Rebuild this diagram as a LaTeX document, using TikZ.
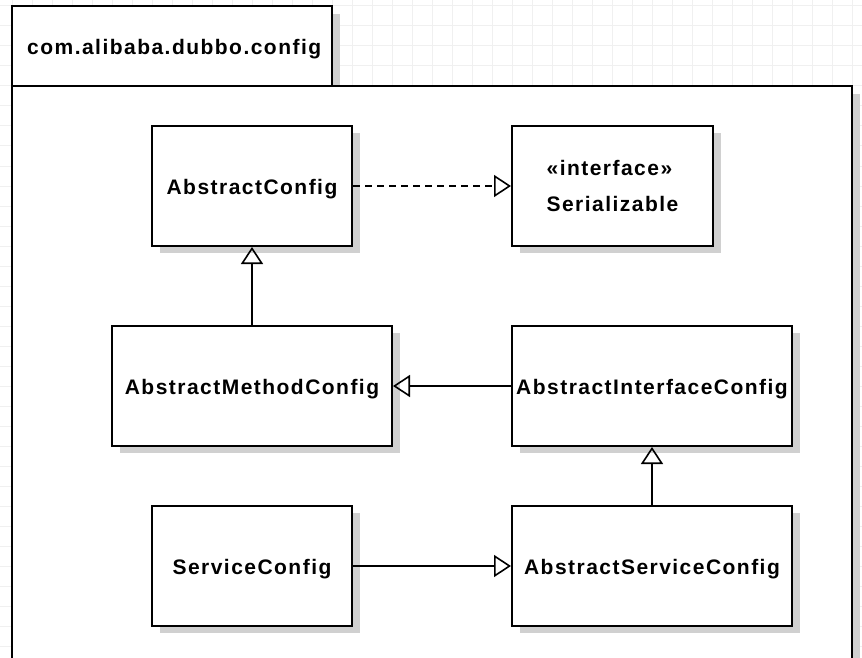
\documentclass[tikz,border=0pt]{standalone}
\usepackage{fontspec}
\setmainfont{Liberation Sans}[LetterSpace=7]
\usetikzlibrary{arrows.meta,shadows}
\definecolor{gridc}{RGB}{240,240,240}
\definecolor{shadowc}{RGB}{208,208,208}
\begin{document}
\begin{tikzpicture}[x=1pt,y=-1pt,
  gridline/.style={draw=gridc, line width=1pt},
  umlshadow/.style={drop shadow={shadow xshift=8pt, shadow yshift=-7pt, fill=shadowc, opacity=1}},
  cls/.style={draw, line width=2pt, fill=white, umlshadow, inner sep=0pt,
    font=\bfseries\fontsize{21}{36}\selectfont, minimum height=120pt},
  oneline/.style={text height=18pt, text depth=2pt},
  conn/.style={line width=1.6pt},
  gen/.style={conn, -{Triangle[open, length=17pt, width=22pt]}},
  real/.style={gen, dash pattern=on 7pt off 5pt}
]
\useasboundingbox (0,0) rectangle (862,658);
\clip (0,0) rectangle (862,658);
\fill[white] (0,0) rectangle (862,658);
% grid
\foreach \x in {12,32,...,852} \draw[gridline] (\x,0) -- (\x,658);
\foreach \y in {6,26,...,646} \draw[gridline] (0,\y) -- (862,\y);
% package shadows
\fill[shadowc] (20,14) rectangle (340,94);
\fill[shadowc] (20,94) rectangle (860,700);
% package
\draw[line width=2pt, fill=white] (12,86) rectangle (852,700);
\draw[line width=2pt, fill=white] (12,6) rectangle (332,86);
\node[anchor=base west, inner sep=0pt, font=\bfseries\fontsize{21}{25}\selectfont] (pkg) at (27,55) {com.alibaba.dubbo.config};
% classes
\node[cls, oneline, minimum width=200pt] (ac) at (252,186) {AbstractConfig};
\node[cls, minimum width=201pt, align=left] (ser) at (612.5,186) {«interface»\\Serializable};
\node[cls, oneline, minimum width=280pt] (amc) at (252,386) {AbstractMethodConfig};
\node[cls, oneline, minimum width=280pt] (aic) at (652,386) {AbstractInterfaceConfig};
\node[cls, oneline, minimum width=200pt] (sc) at (252,566) {ServiceConfig};
\node[cls, oneline, minimum width=280pt] (asc) at (652,566) {AbstractServiceConfig};
% connectors
\draw[real] (ac.east) -- (ser.west);
\draw[gen] (amc.north) -- (ac.south);
\draw[gen] (aic.west) -- (amc.east);
\draw[gen] (asc.north) -- (aic.south);
\draw[gen] (sc.east) -- (asc.west);
\end{tikzpicture}
\end{document}
